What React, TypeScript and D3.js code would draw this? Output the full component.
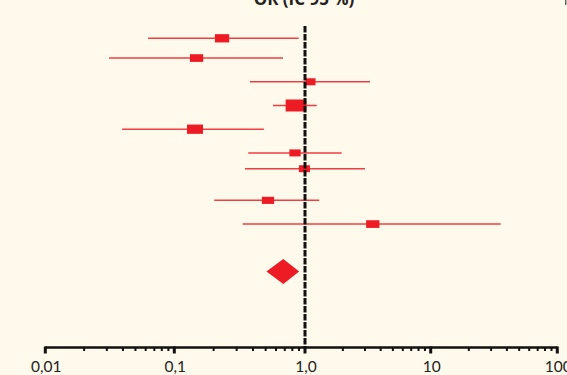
import React, { useRef, useEffect } from 'react';
import * as d3 from 'd3';

// odds ratios with 95% CI, one per study
const rowPos = [0, 5, 11, 17, 23, 29, 33, 41, 47];
const orValues = [0.232, 0.148, 1.11, 0.853, 0.144, 0.839, 0.99, 0.521, 3.46];
const ciLow = [0.0625, 0.0312, 0.379, 0.569, 0.0394, 0.368, 0.347, 0.202, 0.333];
const ciHigh = [0.894, 0.679, 3.29, 1.24, 0.485, 1.96, 3.0, 1.3, 35.7];
const weights = [11.5, 10.7, 7.8, 16.7, 12.9, 9.1, 8.9, 9.9, 10.7];

// pooled estimate
const pooledPos = 59;
const pooled = { or: 0.682, low: 0.507, high: 0.903 };

const majorTicks = [0.01, 0.1, 1, 10, 100];
const tickLabels = ['0,01', '0,1', '1,0', '10', '100'];

const W = 567;
const H = 375;

const ForestPlot = () => {
  const svgRef = useRef<SVGSVGElement>(null);

  useEffect(() => {
    const svg = d3.select(svgRef.current);
    svg.selectAll('*').remove();

    svg.append('rect').attr('width', W).attr('height', H).attr('fill', '#fffaeb');

    // the printed axis is not quite even from decade to decade
    const x = d3.scaleLog().domain(majorTicks).range([45.3, 174.3, 305, 430.7, 557.3]);
    const y = d3.scaleLinear().domain([0, 59]).range([38.3, 271.5]);
    const boxW = d3.scaleLinear().domain([0, 16.7]).range([0, 20.7]);
    const axisY = 347.5;
    const red = '#ed1c24';

    // title (cut at the top edge like the source)
    svg.append('text')
      .attr('x', 304).attr('y', 5)
      .attr('text-anchor', 'middle')
      .attr('font-family', 'Open Sans, sans-serif')
      .attr('font-weight', 'bold')
      .attr('font-size', 17)
      .attr('fill', '#222')
      .text('OR (IC 95 %)');

    svg.append('rect').attr('x', 565).attr('y', 0).attr('width', 1.5).attr('height', 5).attr('fill', '#666');

    // axis
    const g = svg.append('g');
    g.append('line')
      .attr('x1', x(0.01)).attr('x2', x(100))
      .attr('y1', axisY).attr('y2', axisY)
      .attr('stroke', '#111').attr('stroke-width', 2.5);

    const minor: number[] = [];
    [0.01, 0.1, 1, 10].forEach(d => {
      for (let k = 2; k <= 9; k++) minor.push(d * k);
    });
    g.selectAll('.minor').data(minor).enter().append('line')
      .attr('x1', d => x(d)).attr('x2', d => x(d))
      .attr('y1', axisY).attr('y2', axisY + 3.5)
      .attr('stroke', '#111').attr('stroke-width', 2);

    g.selectAll('.major').data(majorTicks).enter().append('line')
      .attr('x1', d => x(d)).attr('x2', d => x(d))
      .attr('y1', axisY - 1).attr('y2', axisY + 6)
      .attr('stroke', '#111').attr('stroke-width', 3);

    g.selectAll('.lbl').data(majorTicks).enter().append('text')
      .attr('x', d => x(d) + 1).attr('y', 371.5)
      .attr('text-anchor', 'middle')
      .attr('font-family', 'Lato, sans-serif')
      .attr('font-size', 15.5)
      .attr('fill', '#222')
      .text((d, i) => tickLabels[i]);

    // CI lines
    svg.selectAll('.ci').data(orValues).enter().append('line')
      .attr('x1', (d, i) => x(ciLow[i])).attr('x2', (d, i) => x(ciHigh[i]))
      .attr('y1', (d, i) => y(rowPos[i])).attr('y2', (d, i) => y(rowPos[i]))
      .attr('stroke', red).attr('stroke-width', 1.5).attr('stroke-opacity', 0.85);

    // boxes
    svg.selectAll('.box').data(orValues).enter().append('rect')
      .attr('x', (d, i) => x(d) - boxW(weights[i]) / 2)
      .attr('y', (d, i) => y(rowPos[i]) - Math.max(7, boxW(weights[i]) * 0.58) / 2)
      .attr('width', (d, i) => boxW(weights[i]))
      .attr('height', (d, i) => Math.max(7, boxW(weights[i]) * 0.58))
      .attr('fill', red);

    // pooled diamond
    const py = y(pooledPos);
    svg.append('path')
      .attr('d', `M${x(pooled.low)},${py} L${x(pooled.or)},${py - 12.5} L${x(pooled.high)},${py} L${x(pooled.or)},${py + 12.5} Z`)
      .attr('fill', red);

    // line of no effect
    svg.append('line')
      .attr('x1', x(1)).attr('x2', x(1))
      .attr('y1', 26).attr('y2', axisY)
      .attr('stroke', '#111').attr('stroke-width', 3)
      .attr('stroke-dasharray', '6.5,1.5');
  }, []);

  return (
    <svg
      ref={svgRef}
      width={W}
      height={H}
      style={{ position: 'fixed', top: 0, left: 0, display: 'block' }}
    ></svg>
  );
};

export default function App() {
  return <ForestPlot />;
}
